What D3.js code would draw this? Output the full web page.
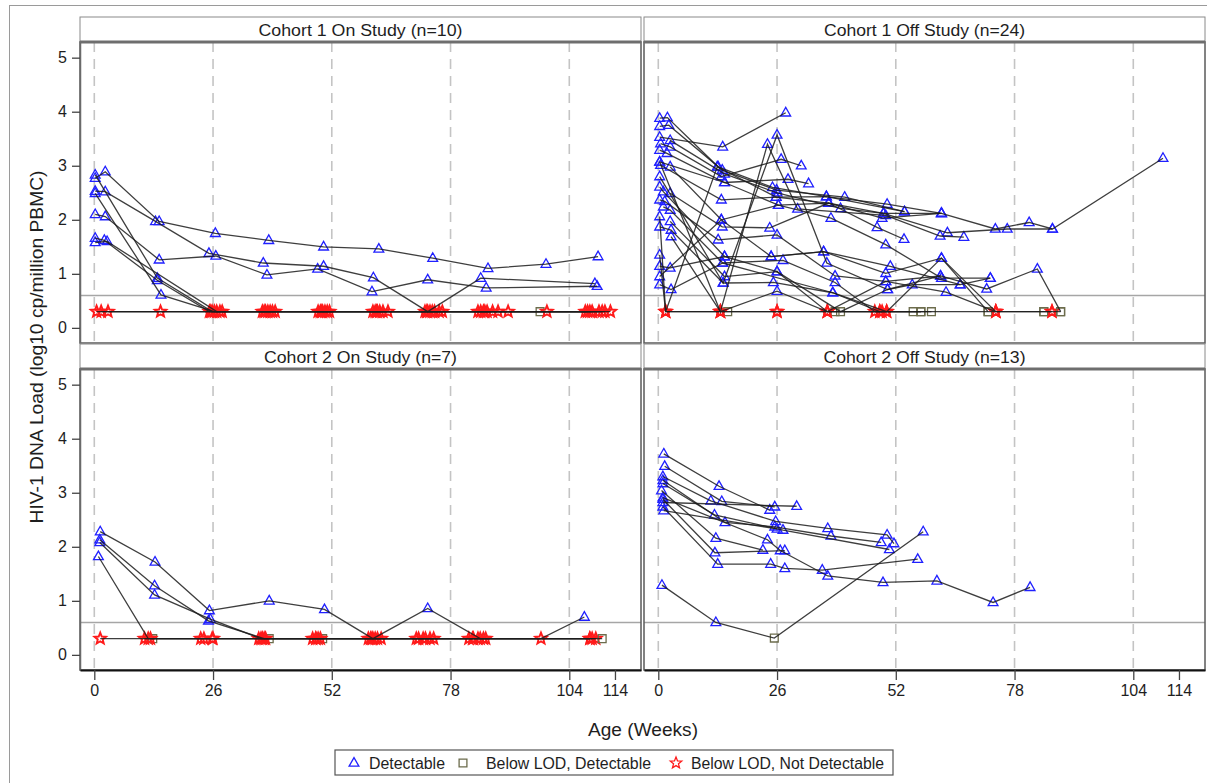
<!DOCTYPE html>
<html lang="en">
<head>
<meta charset="utf-8">
<title>HIV-1 DNA Load by Age</title>
<script src="https://cdn.jsdelivr.net/npm/d3@7"></script>
<style>
  body { margin: 0; background: #fff; }
  text { font-family: "Liberation Sans", Arial, sans-serif; fill: #1e1e1e; }
</style>
</head>
<body>
<svg id="chart" width="1207" height="783"></svg>
<script>
// ---- data ----
const xTicks = [0, 26, 52, 78, 104, 114];
const gridWeeks = [0, 26, 52, 78, 104];
const yTicks = [0, 1, 2, 3, 4, 5];
const lod = 0.6;
const titles = ['Cohort 1 On Study (n=10)', 'Cohort 1 Off Study (n=24)',
                'Cohort 2 On Study (n=7)', 'Cohort 2 Off Study (n=13)'];
const statusLabels = ['Detectable', 'Below LOD, Detectable', 'Below LOD, Not Detectable'];

// each subject: [week, log10 load, status]  D = detectable, B = below LOD detectable, N = not detectable
const cohort1On = [
  [[0.2,2.77,'D'],[2.4,2.89,'D'],[14.2,1.97,'D'],[26.5,1.75,'D'],[38.2,1.62,'D'],[50.2,1.5,'D'],[62.3,1.46,'D'],[74.1,1.29,'D'],[86.2,1.1,'D'],[98.9,1.18,'D'],[110.3,1.32,'D']],
  [[0.2,2.53,'D'],[2.4,2.52,'D'],[13.4,1.97,'D'],[25.1,1.38,'D'],[37,1.2,'D'],[50.2,1.14,'D'],[61.1,0.93,'D'],[73,0.3,'N'],[84.6,0.92,'D'],[109.6,0.82,'D']],
  [[0.2,2.1,'D'],[2.4,2.06,'D'],[14.2,1.26,'D'],[26.6,1.33,'D'],[37.8,0.98,'D'],[48.9,1.09,'D'],[60.8,0.67,'D'],[73,0.89,'D'],[85.8,0.74,'D'],[110.1,0.77,'D']],
  [[0.2,2.83,'D'],[13.8,0.92,'D'],[25.8,0.3,'N'],[37.5,0.3,'N'],[49.5,0.3,'N'],[61.5,0.3,'N'],[73.5,0.3,'N'],[85.2,0.3,'N'],[97.6,0.3,'B'],[109,0.3,'N']],
  [[0.2,2.49,'D'],[14.6,0.61,'D'],[26.3,0.3,'N'],[38.5,0.3,'N'],[50.5,0.3,'N'],[62.5,0.3,'N'],[74.5,0.3,'N'],[86,0.3,'N'],[99.1,0.3,'N'],[110.5,0.3,'N']],
  [[0.2,1.66,'D'],[2.2,1.62,'D'],[13.8,0.88,'D'],[25.2,0.3,'N'],[36.8,0.3,'N'],[49,0.3,'N'],[61,0.3,'N'],[72.4,0.3,'N'],[84,0.3,'N'],[108,0.3,'N']],
  [[0.2,1.58,'D'],[2.8,1.6,'D'],[26.8,0.3,'N'],[39,0.3,'N'],[51,0.3,'N'],[63.2,0.3,'N'],[75.5,0.3,'N'],[87.2,0.3,'N'],[111.2,0.3,'N']],
  [[0.5,0.3,'N'],[14.5,0.3,'N'],[27.5,0.3,'N'],[39.6,0.3,'N'],[51.5,0.3,'N'],[64.3,0.3,'N'],[76.2,0.3,'N'],[88.4,0.3,'N'],[111.8,0.3,'N']],
  [[1.5,0.3,'N'],[28,0.3,'N'],[37.2,0.3,'N'],[49.8,0.3,'N'],[62,0.3,'N'],[72.8,0.3,'N'],[84.6,0.3,'N'],[90.6,0.3,'N'],[107.5,0.3,'N']],
  [[3,0.3,'N'],[25.5,0.3,'N'],[38,0.3,'N'],[50,0.3,'N'],[61.8,0.3,'N'],[74,0.3,'N'],[85.5,0.3,'N'],[108.5,0.3,'N'],[113,0.3,'N']]
];

const cohort1Off = [
  [[0.3,3.88,'D'],[2.0,3.89,'D'],[13.1,2.98,'D'],[25.0,2.60,'D'],[36.8,2.43,'D'],[50.1,2.29,'D'],[62.0,2.12,'D'],[73.8,1.83,'D'],[81.2,1.95,'D'],[86.3,1.83,'D'],[110.5,3.14,'D']],
  [[0.3,3.73,'D'],[2.3,3.75,'D'],[14.0,2.92,'D'],[25.9,2.55,'D'],[40.8,2.42,'D'],[53.9,2.15,'D']],
  [[0.3,3.53,'D'],[14.1,3.35,'D'],[27.9,3.98,'D']],
  [[2.6,3.47,'D'],[14.5,2.85,'D'],[26.0,2.50,'D'],[39.9,2.21,'D'],[49.3,2.12,'D'],[63.3,1.76,'D'],[76.4,1.83,'D'],[86.3,1.83,'D']],
  [[0.5,3.41,'D'],[2.6,3.35,'D'],[13.8,2.80,'D'],[26.9,3.12,'D'],[31.3,3.00,'D']],
  [[0.3,3.29,'D'],[1.9,3.23,'D'],[14.5,2.69,'D'],[28.4,2.75,'D'],[32.9,2.67,'D']],
  [[0.3,3.07,'D'],[13.6,0.3,'N'],[23.9,3.40,'D'],[30.5,2.20,'D'],[49.8,2.08,'D'],[61.7,1.70,'D'],[66.9,1.68,'D']],
  [[0.5,3.01,'D'],[13.8,2.37,'D'],[25.8,2.42,'D'],[37.3,2.31,'D'],[47.9,1.86,'D'],[53.8,1.64,'D']],
  [[2.6,2.98,'D'],[13.8,2.00,'D'],[26.3,2.27,'D'],[37.8,2.03,'D'],[49.8,1.54,'D'],[62.0,0.92,'D'],[72.7,0.92,'D']],
  [[0.3,2.80,'D'],[14.2,0.83,'D'],[26.0,3.57,'D'],[36.9,1.20,'D'],[50.2,0.71,'D'],[61.8,0.96,'D'],[71.9,0.72,'D'],[83.0,1.09,'D'],[88.1,0.3,'B']],
  [[0.3,2.61,'D'],[1.1,2.52,'D'],[14.5,1.32,'D'],[24.7,1.32,'D'],[36.2,1.41,'D'],[49.8,1.01,'D'],[62.0,1.29,'D'],[73.9,0.3,'N'],[84.4,0.3,'B'],[86.2,0.3,'N']],
  [[2.6,2.49,'D'],[14.0,1.87,'D'],[24.4,1.85,'D'],[37.3,2.31,'D'],[49.0,2.03,'D'],[62.0,2.12,'D']],
  [[0.3,2.37,'D'],[1.4,2.34,'D'],[13.1,1.63,'D'],[26.0,1.72,'D'],[38.7,0.96,'D'],[49.8,0.86,'D'],[61.8,0.96,'D']],
  [[1.1,2.24,'D'],[2.6,2.18,'D'],[14.1,1.20,'D'],[27.3,1.25,'D'],[38.7,0.84,'D'],[47.4,0.3,'N'],[55.8,0.3,'B'],[57.5,0.3,'B']],
  [[0.3,2.06,'D'],[1.6,0.3,'N'],[12.9,2.98,'D'],[25.8,2.42,'D'],[36.8,2.43,'D'],[53.9,2.15,'D']],
  [[2.6,1.97,'D'],[14.5,0.95,'D'],[26.0,1.04,'D'],[37.0,0.3,'N'],[48.5,0.3,'N'],[59.8,0.3,'B']],
  [[0.3,1.87,'D'],[2.8,1.81,'D'],[14.2,0.83,'D'],[25.2,0.84,'D'],[38.2,0.65,'D'],[50.0,0.3,'N'],[62.0,1.29,'D'],[72.2,0.3,'B']],
  [[2.8,1.69,'D'],[13.6,0.3,'N'],[15.2,0.3,'B'],[26.0,0.3,'N'],[38.7,0.3,'B'],[49.0,0.3,'N']],
  [[0.3,1.35,'D'],[1.6,0.3,'N'],[13.6,0.3,'N'],[26.0,0.68,'D'],[37.0,0.3,'N'],[49.8,0.86,'D'],[63.0,0.66,'D'],[73.9,0.3,'N']],
  [[0.3,1.14,'D'],[2.6,1.11,'D'],[14.5,1.32,'D'],[26.0,1.04,'D'],[39.9,0.3,'B'],[50.2,0.71,'D'],[55.6,0.80,'D'],[66.1,0.80,'D']],
  [[0.3,0.95,'D'],[13.8,2.00,'D'],[24.7,1.32,'D'],[36.2,1.41,'D'],[50.8,1.14,'D'],[66.1,0.80,'D'],[72.7,0.92,'D']],
  [[0.3,0.80,'D'],[2.8,0.71,'D'],[14.1,1.20,'D'],[38.2,0.65,'D'],[48.5,0.3,'N'],[57.5,0.3,'B']],
  [[1.6,0.3,'N'],[13.6,0.3,'N'],[26.0,0.3,'N'],[37.0,0.3,'N'],[50.0,0.3,'N'],[72.2,0.3,'B'],[73.9,0.3,'N'],[84.4,0.3,'B'],[86.2,0.3,'N'],[88.1,0.3,'B']],
  [[0.3,3.07,'D'],[14.5,2.69,'D'],[26.3,2.27,'D'],[37.3,2.31,'D'],[49.3,2.12,'D'],[62.0,2.12,'D']]
];

const cohort2On = [
  [[1.3,2.28,'D'],[13.3,1.72,'D'],[25.2,0.82,'D'],[38.3,1.0,'D'],[50.4,0.84,'D'],[61,0.3,'N'],[73,0.86,'D'],[84.5,0.3,'N'],[97.8,0.3,'N'],[107.3,0.7,'D']],
  [[1.2,2.13,'D'],[13.2,1.28,'D'],[25,0.63,'D'],[37.2,0.3,'N'],[48.5,0.3,'N'],[60.5,0.3,'N'],[71,0.3,'N'],[83,0.3,'N'],[109,0.3,'N']],
  [[1.2,2.08,'D'],[13.2,1.11,'D'],[25.4,0.66,'D'],[36.5,0.3,'N'],[38.3,0.3,'B'],[49,0.3,'N'],[61.5,0.3,'N'],[72,0.3,'N'],[84,0.3,'N'],[108.5,0.3,'N']],
  [[0.9,1.82,'D'],[11.8,0.3,'N'],[24,0.3,'N'],[36.8,0.3,'N'],[47.8,0.3,'N'],[62,0.3,'N'],[73.5,0.3,'N'],[85.2,0.3,'N'],[109.8,0.3,'N']],
  [[1.3,0.3,'N'],[12.8,0.3,'B'],[25.8,0.3,'N'],[37.5,0.3,'N'],[50,0.3,'B'],[62.8,0.3,'N'],[74.3,0.3,'N'],[85.7,0.3,'N'],[111.2,0.3,'B']],
  [[11,0.3,'N'],[23.3,0.3,'N'],[36,0.3,'N'],[49.5,0.3,'N'],[60,0.3,'N'],[70.5,0.3,'N'],[82,0.3,'N'],[108.5,0.3,'N']],
  [[12.3,0.3,'N'],[26,0.3,'N'],[48.5,0.3,'N'],[60.8,0.3,'N'],[72.5,0.3,'N'],[82.8,0.3,'N']]
];

const cohort2Off = [
  [[1.2,3.72,'D'],[13.3,3.12,'D'],[24.4,2.68,'D']],
  [[1.4,3.49,'D'],[13.9,2.84,'D'],[25.5,2.74,'D']],
  [[1.0,3.30,'D'],[11.5,2.85,'D'],[25.7,2.47,'D'],[37.1,2.34,'D'],[50.1,2.22,'D'],[51.6,2.06,'D']],
  [[1.0,3.23,'D'],[14.6,2.45,'D'],[25.5,2.37,'D'],[37.8,2.20,'D'],[48.8,2.08,'D']],
  [[1.0,3.17,'D'],[12.3,2.59,'D'],[27.3,2.31,'D'],[50.6,1.95,'D']],
  [[0.7,3.04,'D'],[12.6,2.16,'D'],[22.9,1.94,'D']],
  [[1.0,2.91,'D'],[23.9,2.13,'D'],[26.7,1.93,'D'],[37.1,1.46,'D'],[49.2,1.34,'D'],[61.0,1.37,'D'],[73.3,0.97,'D'],[81.4,1.25,'D']],
  [[1.0,2.88,'D'],[12.4,1.89,'D'],[27.7,1.93,'D']],
  [[1.0,2.74,'D'],[13.0,1.68,'D'],[24.6,1.68,'D'],[27.7,1.60,'D'],[35.9,1.57,'D'],[56.8,1.77,'D']],
  [[1.2,2.67,'D'],[26.0,2.33,'D']],
  [[0.8,1.29,'D'],[12.6,0.60,'D'],[25.4,0.31,'B'],[58.0,2.28,'D']],
  [[1.0,2.82,'D'],[30.3,2.75,'D']]
];

// ---- layout ----
const svg = d3.select('#chart');
const plotW = 561, plotH = 301, headH = 25;
const colX = [80, 644], rowY = [42, 369];
const x = d3.scaleLinear().domain([-3.13, 119.7]).range([0, plotW]);
const y = d3.scaleLinear().domain([-0.28, 5.29]).range([plotH, 0]);

const colors = { D: '#2020ff', B: '#6c6c4c', N: '#ff1a1a' };
const widths = { D: 1.3, B: 1.3, N: 1.9 };

function starPath(R, r) {
  const pts = d3.range(10).map(i => {
    const a = -Math.PI / 2 + i * Math.PI / 5, rad = i % 2 ? r : R;
    return [rad * Math.cos(a), rad * Math.sin(a)];
  });
  return 'M' + pts.map(p => p[0].toFixed(2) + ',' + p[1].toFixed(2)).join('L') + 'Z';
}
const shapes = {
  D: 'M0,-5.4L4.9,3.2L-4.9,3.2Z',
  B: 'M-3.9,-3.9H3.9V3.9H-3.9Z',
  N: starPath(6, 2.6)
};

// outer frame
svg.append('rect').attr('x', 9.5).attr('y', 5.5).attr('width', 1300).attr('height', 900)
  .attr('fill', 'none').attr('stroke', '#9a9a9a');

const panels = [cohort1On, cohort1Off, cohort2On, cohort2Off];
const line = d3.line().x(d => x(d[0])).y(d => y(d[1]));

panels.forEach((subjects, i) => {
  const col = i % 2, row = Math.floor(i / 2);
  const g = svg.append('g').attr('transform', `translate(${colX[col]},${rowY[row]})`);

  // header strip
  g.append('rect').attr('x', 0).attr('y', -headH).attr('width', plotW).attr('height', headH)
    .attr('fill', '#fff').attr('stroke', '#8a8a8a');
  g.append('text').attr('x', plotW / 2).attr('y', -headH / 2 + 1)
    .attr('text-anchor', 'middle').attr('dominant-baseline', 'central')
    .style('font-size', '16px').attr('textLength', [204, 201, 193, 202][i])
    .attr('lengthAdjust', 'spacingAndGlyphs').text(titles[i]);

  const clipId = 'clip' + i;
  g.append('clipPath').attr('id', clipId).append('rect').attr('width', plotW).attr('height', plotH);
  const plot = g.append('g').attr('clip-path', `url(#${clipId})`);

  plot.selectAll('line.grid').data(gridWeeks).join('line').attr('class', 'grid')
    .attr('x1', d => x(d)).attr('x2', d => x(d)).attr('y1', 0).attr('y2', plotH)
    .attr('stroke', '#c4c4c4').attr('stroke-width', 1.6).attr('stroke-dasharray', '10,7');

  plot.append('line').attr('x1', 0).attr('x2', plotW).attr('y1', y(lod)).attr('y2', y(lod))
    .attr('stroke', '#a6a6a6').attr('stroke-width', 1.6);

  const pts = subjects.flat();
  plot.selectAll('path.mark').data(pts).join('path').attr('class', 'mark')
    .attr('transform', d => `translate(${x(d[0])},${y(d[1])})`)
    .attr('d', d => shapes[d[2]]).attr('fill', 'none')
    .attr('stroke', d => colors[d[2]]).attr('stroke-width', d => widths[d[2]]);

  plot.selectAll('path.subj').data(subjects).join('path').attr('class', 'subj')
    .attr('d', line).attr('fill', 'none').attr('stroke', '#1c1c1c')
    .attr('stroke-width', 1.3).attr('stroke-opacity', 0.85);

  // border
  g.append('rect').attr('width', plotW).attr('height', plotH)
    .attr('fill', 'none').attr('stroke', '#5a5a5a').attr('stroke-width', 1.5);
  g.append('line').attr('x1', 0).attr('x2', plotW).attr('y1', 0).attr('y2', 0)
    .attr('stroke', '#6e6e6e').attr('stroke-width', 3);

  if (col === 0) {
    const ya = g.append('g').call(d3.axisLeft(y).tickValues(yTicks).tickFormat(d3.format('d'))
      .tickSize(8).tickSizeOuter(0));
    ya.select('.domain').attr('stroke', '#6a6a6a').attr('stroke-width', 1.5);
    ya.selectAll('.tick line').attr('stroke', '#444').attr('stroke-width', 1.3);
    ya.selectAll('.tick text').attr('x', -13).style('font-size', '16px')
      .style('font-family', '"Liberation Sans", Arial, sans-serif').attr('fill', '#1e1e1e');
  }
  if (row === 1) {
    const xa = g.append('g').attr('transform', `translate(0,${plotH})`)
      .call(d3.axisBottom(x).tickValues(xTicks).tickSize(10).tickSizeOuter(0));
    xa.select('.domain').attr('stroke', '#111').attr('stroke-width', 2.2);
    xa.selectAll('.tick line').attr('stroke', '#444').attr('stroke-width', 1.3);
    xa.selectAll('.tick text').attr('y', 15).style('font-size', '16px')
      .style('font-family', '"Liberation Sans", Arial, sans-serif').attr('fill', '#1e1e1e');
  }
});

// axis titles
svg.append('text').attr('transform', 'translate(37,347) rotate(-90)')
  .attr('text-anchor', 'middle').attr('dominant-baseline', 'central')
  .style('font-size', '18px').attr('textLength', 353).attr('lengthAdjust', 'spacingAndGlyphs')
  .text('HIV-1 DNA Load (log10 cp/million PBMC)');
svg.append('text').attr('x', 643).attr('y', 730)
  .attr('text-anchor', 'middle').attr('dominant-baseline', 'central')
  .style('font-size', '18px').attr('textLength', 110).attr('lengthAdjust', 'spacingAndGlyphs')
  .text('Age (Weeks)');

// legend
const lg = svg.append('g').attr('transform', 'translate(335,750)');
lg.append('rect').attr('width', 558).attr('height', 25).attr('fill', '#fff')
  .attr('stroke', '#555').attr('stroke-width', 1.2);
const legendItems = [
  { k: 'D', sx: 19, tx: 34, w: 76 },
  { k: 'B', sx: 128, tx: 151, w: 165 },
  { k: 'N', sx: 341, tx: 356, w: 193 }
];
legendItems.forEach((it, j) => {
  lg.append('path').attr('transform', `translate(${it.sx},13)`).attr('d', shapes[it.k])
    .attr('fill', 'none').attr('stroke', colors[it.k]).attr('stroke-width', 1.3);
  lg.append('text').attr('x', it.tx).attr('y', 13).attr('dominant-baseline', 'central')
    .style('font-size', '16px').attr('textLength', it.w).attr('lengthAdjust', 'spacingAndGlyphs')
    .text(statusLabels[j]);
});
</script>
</body>
</html>
